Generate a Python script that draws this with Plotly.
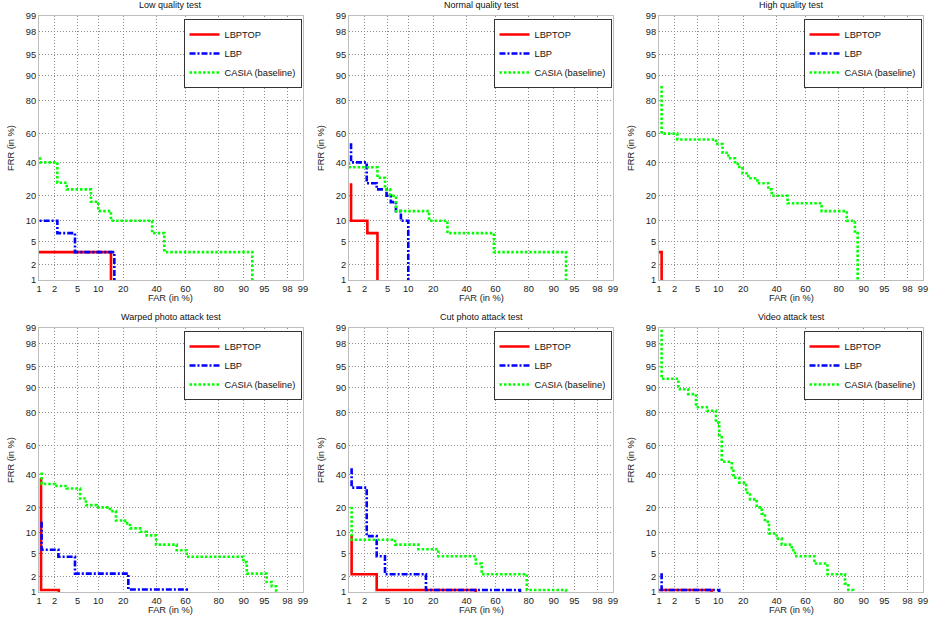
from statistics import NormalDist
import plotly.graph_objects as go

# ---------------- data (percent) ----------------
TICKS = [1, 2, 5, 10, 20, 40, 60, 80, 90, 95, 98, 99]
TICK_LABELS = ["1", "2", "5", "10", "20", "40", "60", "80", "90", "95", "98", "99"]

TITLES = ["Low quality test", "Normal quality test", "High quality test",
          "Warped photo attack test", "Cut photo attack test", "Video attack test"]
SERIES = ["LBPTOP", "LBP", "CASIA (baseline)"]

# Step-curve vertices (FAR %, FRR %), vertical-then-horizontal steps
LOW_LBPTOP_FAR = [0.1, 14.5, 14.5]
LOW_LBPTOP_FRR = [3.33, 3.33, 0.1]
LOW_LBP_FAR = [0.1, 2.26, 4.53, 15.9, 15.9]
LOW_LBP_FRR = [10, 10, 6.67, 3.33, 0.1]
LOW_CASIA_FAR = [1.05, 2.26, 3.3, 7.9, 10, 14.5, 37, 45.3, 92.4, 92.4]
LOW_CASIA_FRR = [43.5, 40, 27, 23.3, 17.2, 13.3, 10, 6.67, 3.33, 0.1]

NORM_LBPTOP_FAR = [1.1, 2.26, 3.4, 3.4]
NORM_LBPTOP_FRR = [26.7, 10, 6.67, 0.1]
NORM_LBP_FAR = [1.1, 2.2, 3.3, 4.8, 5.6, 6.7, 7.9, 10, 10]
NORM_LBP_FRR = [53.3, 40, 26.7, 23.3, 20, 17, 13.3, 10, 0.1]
NORM_CASIA_FAR = [1.0, 3.4, 4.53, 5.45, 6.7, 18, 27.7, 59, 93.3, 93.3]
NORM_CASIA_FRR = [40, 36.7, 30, 23.3, 20, 13.3, 10, 6.67, 3.33, 0.1]

HIGH_LBPTOP_FAR = [0.1, 1.13, 1.13]
HIGH_LBPTOP_FRR = [3.33, 3.33, 0.1]
HIGH_LBP_FAR = [None]   # no visible LBP curve in this panel
HIGH_LBP_FRR = [None]
HIGH_CASIA_FAR = [1.13, 2.26, 9.3, 11.4, 13.5, 16.2, 18.1, 19.7, 22.6, 27.7, 34.5,
                  36.7, 47.6, 70.5, 83.7, 87, 88, 88]
HIGH_CASIA_FRR = [86.3, 60, 56, 52.8, 46.7, 42.8, 38.9, 36, 32.8, 29.7, 26.7,
                  23.3, 20, 16.5, 13.3, 10, 6.67, 0.1]

WARP_LBPTOP_FAR = [1.1, 2.4, 2.4]
WARP_LBPTOP_FRR = [37.5, 1.1, 0.1]
WARP_LBP_FAR = [1.13, 2.36, 4.53, 22.6, 60.9, 60.9]
WARP_LBP_FRR = [13.8, 5.7, 4.4, 2.26, 1.12, 0.1]
WARP_CASIA_FAR = [1.13, 2.05, 3.3, 5.45, 6.7, 9.5, 14.1, 16.6, 20.9, 23.5, 29.3, 33.4,
                  39.6, 54, 60.9, 89.9, 90.9, 95.4, 96.2, 96.8, 96.8]
WARP_CASIA_FRR = [41.2, 33.6, 32.3, 30.8, 24.9, 21.3, 20.2, 18.4, 14.3, 13.2, 11.4, 10.3,
                  9.2, 6.8, 5.6, 4.4, 3.6, 2.26, 1.58, 1.3, 0.1]

CUT_LBPTOP_FAR = [1.13, 3.3, 46.3, 46.3]
CUT_LBPTOP_FRR = [9.3, 2.2, 1.1, 0.1]
CUT_LBP_FAR = [1.13, 2.2, 3.3, 4.53, 16.6, 75.4, 75.4]
CUT_LBP_FRR = [44.2, 31.3, 9, 4.5, 2.2, 1.1, 0.1]
CUT_CASIA_FAR = [1.13, 6.5, 13.5, 22.6, 46.3, 50.5, 79, 93.3, 93.3]
CUT_CASIA_FRR = [20.5, 8, 6.8, 5.8, 4.5, 3.4, 2.2, 1.1, 0.1]

VID_LBPTOP_FAR = [0.1, 8.1, 8.1]
VID_LBPTOP_FRR = [1.1, 1.1, 0.1]
VID_LBP_FAR = [1.13, 10.3, 10.3]
VID_LBP_FRR = [2.3, 1.1, 0.1]
VID_CASIA_FAR = [1.13, 2.36, 3.5, 4.7, 6.9, 9.3, 10.3, 11.1, 14.8, 15.5, 18.1, 21.4, 23.5,
                 27.3, 30.3, 32.3, 34.9, 40, 43.5, 50.5, 52.8, 66, 74, 82.9, 84.4, 86.4, 86.4]
VID_CASIA_FRR = [99.9, 92.4, 89.4, 87.7, 82.4, 80.7, 74.5, 67, 48.8, 44.2, 37.7, 34.5, 28.2,
                 24.4, 20.2, 17.2, 13.8, 9.8, 8.3, 6.8, 5.6, 4.5, 3.4, 2.2, 1.47, 1.1, 0.1]

PANELS = [
    [(LOW_LBPTOP_FAR, LOW_LBPTOP_FRR), (LOW_LBP_FAR, LOW_LBP_FRR), (LOW_CASIA_FAR, LOW_CASIA_FRR)],
    [(NORM_LBPTOP_FAR, NORM_LBPTOP_FRR), (NORM_LBP_FAR, NORM_LBP_FRR), (NORM_CASIA_FAR, NORM_CASIA_FRR)],
    [(HIGH_LBPTOP_FAR, HIGH_LBPTOP_FRR), (HIGH_LBP_FAR, HIGH_LBP_FRR), (HIGH_CASIA_FAR, HIGH_CASIA_FRR)],
    [(WARP_LBPTOP_FAR, WARP_LBPTOP_FRR), (WARP_LBP_FAR, WARP_LBP_FRR), (WARP_CASIA_FAR, WARP_CASIA_FRR)],
    [(CUT_LBPTOP_FAR, CUT_LBPTOP_FRR), (CUT_LBP_FAR, CUT_LBP_FRR), (CUT_CASIA_FAR, CUT_CASIA_FRR)],
    [(VID_LBPTOP_FAR, VID_LBPTOP_FRR), (VID_LBP_FAR, VID_LBP_FRR), (VID_CASIA_FAR, VID_CASIA_FRR)],
]

# ---------------- styling ----------------
W, H = 933, 617
FONT = "Liberation Sans, Arial, sans-serif"
FS = 9
STYLES = [
    dict(color="#ff0000", width=2.6, dash="solid"),
    dict(color="#0000ff", width=2.6, dash="6px,2px,2px,2px"),
    dict(color="#00ff00", width=2.6, dash="2.5px,2px"),
]

nd = NormalDist()


def probit(vals):
    return [None if v is None else nd.inv_cdf(v / 100.0) for v in vals]


LO = nd.inv_cdf(0.01)
HI = nd.inv_cdf(0.99)

col_px = [(39, 303), (349, 613), (659, 923)]
row_px = [(16, 280), (328, 592)]

fig = go.Figure()
layout = dict(
    width=W, height=H, margin=dict(l=0, r=0, t=0, b=0, autoexpand=False),
    paper_bgcolor="white", plot_bgcolor="white",
    font=dict(family=FONT, size=FS, color="#222"),
    showlegend=True,
)
annotations = []

for i in range(6):
    r, c = divmod(i, 3)
    n = "" if i == 0 else str(i + 1)
    xd = [col_px[c][0] / W, col_px[c][1] / W]
    yd = [1 - row_px[r][1] / H, 1 - row_px[r][0] / H]
    axis_common = dict(
        range=[LO, HI], tickmode="array", tickvals=probit(TICKS), ticktext=TICK_LABELS,
        showgrid=True, gridcolor="#8c8c8c", griddash="1px,2px", gridwidth=1,
        zeroline=False, showline=True, mirror=True, linecolor="#bdbdbd", linewidth=1,
        ticks="", tickfont=dict(size=FS + 0.3, family=FONT, color="#222"),
        fixedrange=True, automargin=False,
    )
    layout["xaxis" + n] = dict(axis_common, domain=xd, anchor="y" + n)
    layout["yaxis" + n] = dict(axis_common, domain=yd, anchor="x" + n)
    leg = "legend" + n
    layout[leg] = dict(
        x=xd[1] - 1.5 / W, y=yd[1] - 3 / H, xanchor="right", yanchor="top",
        bgcolor="white", bordercolor="#333", borderwidth=1,
        font=dict(size=FS + 0.3, family=FONT, color="#111"), tracegroupgap=0,
        itemwidth=30,
    )
    for s, (far, frr) in enumerate(PANELS[i]):
        fig.add_trace(go.Scatter(
            x=probit(far), y=probit(frr), mode="lines", name=SERIES[s],
            line=dict(shape="vh", **STYLES[s]),
            xaxis="x" + n, yaxis="y" + n, legend=leg, showlegend=True,
            hoverinfo="skip",
        ))
    annotations.append(dict(
        text=TITLES[i], xref="x" + n + " domain", yref="y" + n + " domain",
        x=0.5, y=1, xanchor="center", yanchor="bottom", yshift=4, showarrow=False,
        font=dict(size=FS, family=FONT, color="#111"),
    ))
    annotations.append(dict(
        text="FAR (in %)", xref="x" + n + " domain", yref="y" + n + " domain",
        x=0.5, y=0, xanchor="center", yanchor="top", yshift=-11, showarrow=False,
        font=dict(size=FS + 0.3, family=FONT, color="#222"),
    ))
    annotations.append(dict(
        text="FRR (in %)", xref="x" + n + " domain", yref="y" + n + " domain",
        x=0, y=0.5, xanchor="center", yanchor="middle", xshift=-28, textangle=-90,
        showarrow=False, font=dict(size=FS + 0.3, family=FONT, color="#222"),
    ))

layout["annotations"] = annotations
fig.update_layout(**layout)
fig.write_html("out.html", config={"displayModeBar": False},
               post_script="document.body.style.margin='0';")
